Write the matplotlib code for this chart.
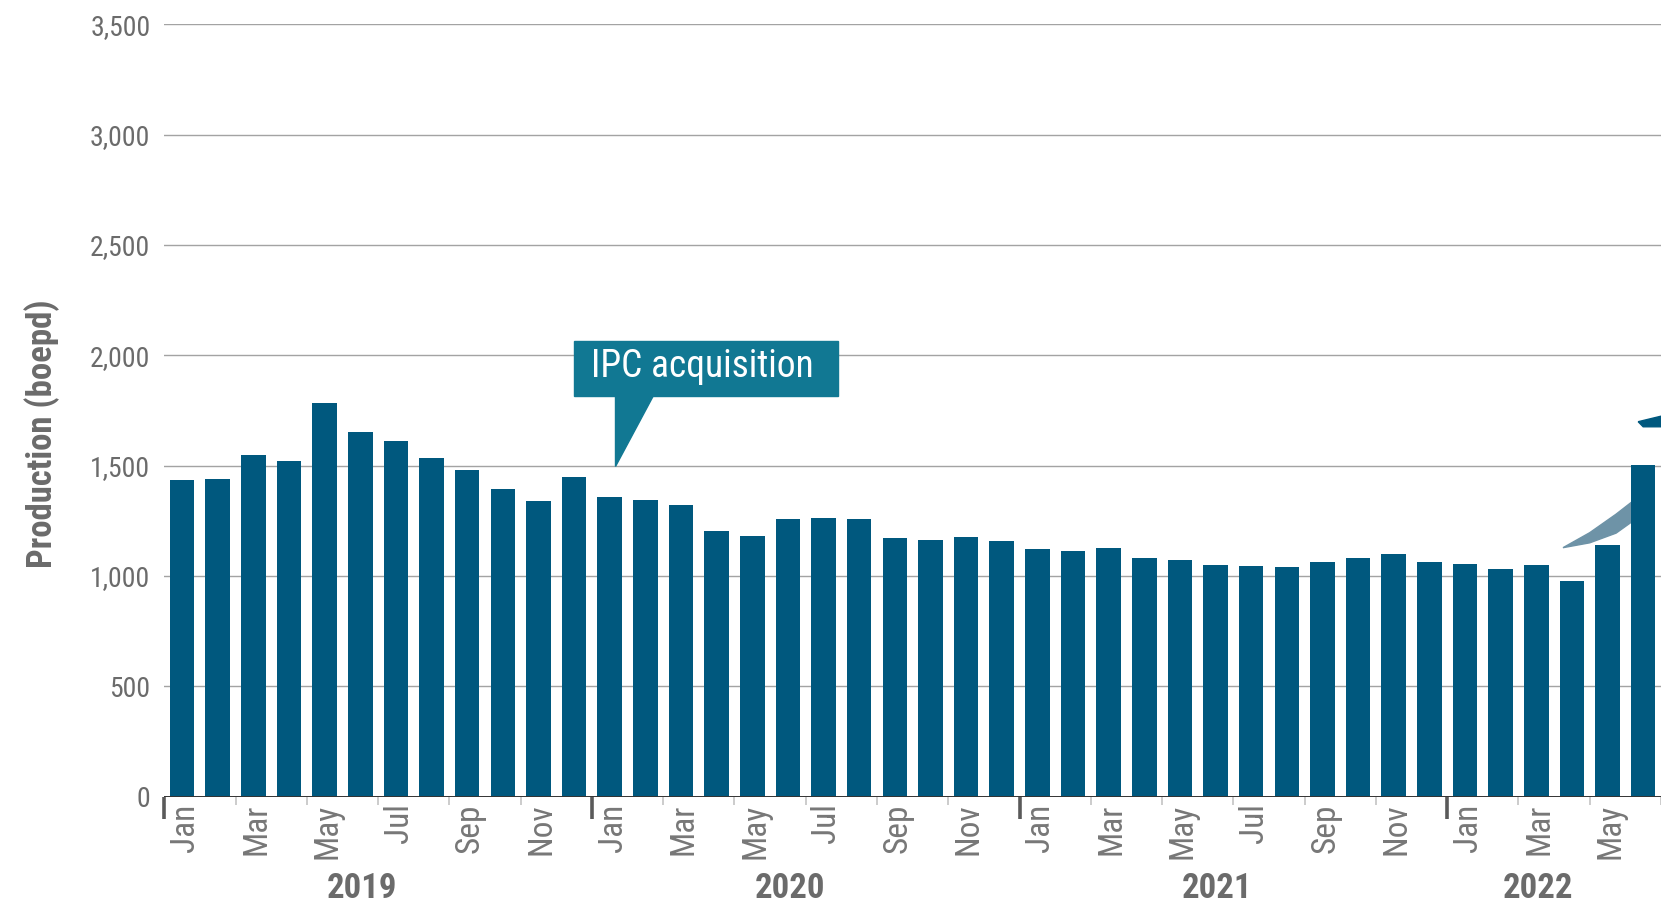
import matplotlib
matplotlib.use('Agg')
import matplotlib.pyplot as plt
from matplotlib import font_manager
from matplotlib.patches import Polygon, Rectangle
import numpy as np

# monthly production, Jan 2019 .. Jun 2022 (boepd)
production = [1435, 1440, 1546, 1522, 1786, 1652, 1613, 1536, 1479, 1392, 1339, 1450,
              1359, 1344, 1320, 1205, 1181, 1258, 1263, 1258, 1171, 1162, 1176, 1157,
              1123, 1114, 1128, 1080, 1071, 1051, 1047, 1042, 1061, 1080, 1099, 1061,
              1056, 1032, 1051, 978, 1141, 1505]
months = ['Jan', 'Feb', 'Mar', 'Apr', 'May', 'Jun', 'Jul', 'Aug', 'Sep', 'Oct', 'Nov', 'Dec']
years = ['2019', '2020', '2021', '2022']
yticks = [0, 500, 1000, 1500, 2000, 2500, 3000, 3500]

names = {f.name for f in font_manager.fontManager.ttflist}
cond = next((n for n in ['Roboto Condensed', 'Liberation Sans Narrow', 'Open Sans Condensed',
                         'DejaVu Sans Condensed', 'Roboto'] if n in names), 'DejaVu Sans')
plt.rcParams['font.family'] = [cond, 'DejaVu Sans']

grey = '#6b6b6b'
barcol = '#00587e'
boxcol = '#117893'

n = len(production)
x = np.arange(n)

fig = plt.figure(figsize=(16.61, 9.02), dpi=100)
ax = fig.add_axes([0.0989, 0.1169, 0.9011, 0.8561])

ax.bar(x, production, width=0.69, color=barcol, zorder=3)
ax.set_xlim(-0.5, 41.19)
ax.set_ylim(0, 3500)

for s in ax.spines.values():
    s.set_visible(False)
ax.set_yticks(yticks)
ax.set_yticklabels([f'{v:,}' for v in yticks], fontsize=20, color=grey)
ax.tick_params(axis='y', length=0, pad=10)
ax.yaxis.grid(True, color='#a3a3a3', lw=1.0, zorder=0)
ax.set_axisbelow(True)
ax.axhline(0, color='#333333', lw=1.4, zorder=4)

lab_idx = x[::2]
ax.set_xticks(lab_idx + 0.08)
ax.set_xticklabels([months[i % 12] for i in lab_idx], rotation=90, fontsize=24, color='#777777')
ax.tick_params(axis='x', length=0, pad=5)
ax.set_xticks(np.arange(1.5, n, 2), minor=True)
ax.tick_params(axis='x', which='minor', length=6, width=1.4, color='#cccccc')

# year separators
for k in range(len(years)):
    ax.plot([12 * k - 0.5, 12 * k - 0.5], [0, -100], color='#5a5a5a', lw=2.6,
            clip_on=False, solid_capstyle='butt', zorder=5)

# year labels centred on the months present
for k, yr in enumerate(years):
    cnt = min(12, n - 12 * k)
    xc = 12 * k + (cnt - 1) / 2 - 0.45
    ax.text(xc, -460, yr, ha='center', va='baseline', fontsize=25, fontweight='bold', color=grey)

ax.set_ylabel('Production (boepd)', fontsize=25, fontweight='bold', color=grey)
ax.yaxis.set_label_coords(-0.0700, 0.47)

# IPC acquisition callout
ax.add_patch(Rectangle((11.0, 1816), 7.41, 249, color=boxcol, zorder=6, clip_on=False))
ax.add_patch(Polygon([(12.14, 1500), (12.14, 1820), (13.22, 1820)], closed=True,
                     color=boxcol, zorder=6, clip_on=False))
ax.text(11.47, 1902, 'IPC acquisition', fontsize=27, color='white', ha='left', va='baseline',
        zorder=7)

# pieces of callouts cut off at the right edge
wedge = [(38.75, 1128), (39.5, 1196), (40.24, 1280), (40.75, 1344), (41.1, 1370),
         (41.1, 1230), (40.75, 1253), (40.24, 1194), (39.5, 1150)]
ax.add_patch(Polygon(wedge, closed=True, color='#6e93a7', zorder=2))
ax.add_patch(Polygon([(40.86, 1699), (41.5, 1724), (41.5, 1676), (41.0, 1676)], closed=True,
                     color=barcol, zorder=6))

fig.savefig('out.png', dpi=100)
